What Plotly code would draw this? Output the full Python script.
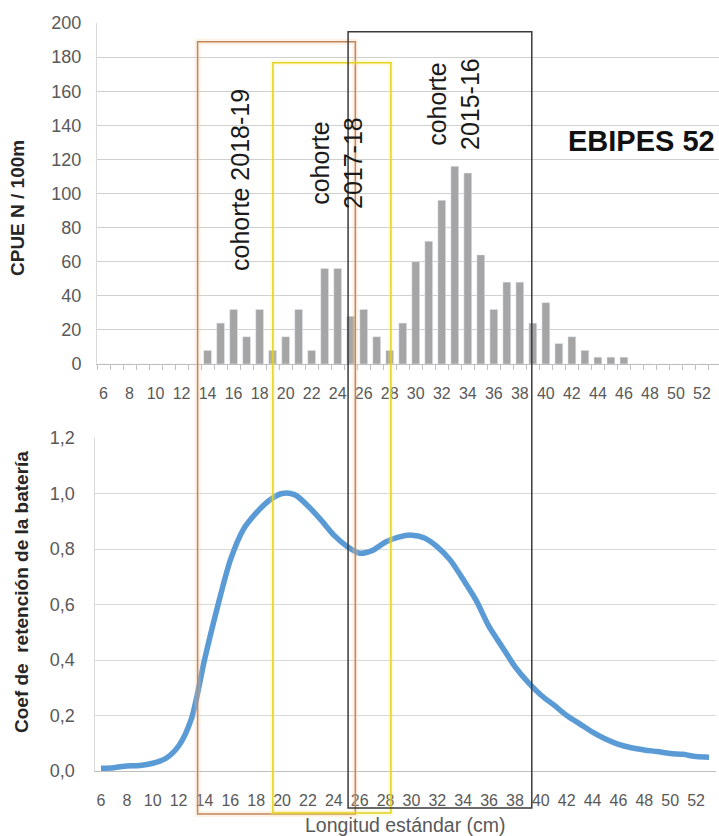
import plotly.graph_objects as go

# ---------------- data ----------------
lengths = [6, 7, 8, 9, 10, 11, 12, 13, 14, 15, 16, 17, 18, 19, 20, 21, 22, 23, 24, 25,
           26, 27, 28, 29, 30, 31, 32, 33, 34, 35, 36, 37, 38, 39, 40, 41, 42, 43, 44,
           45, 46, 47, 48, 49, 50, 51, 52, 53]

cpue = [0, 0, 0, 0, 0, 0, 0, 0, 8, 24, 32, 16, 32, 8, 16, 32, 8, 56, 56, 28,
        32, 16, 8, 24, 60, 72, 96, 116, 112, 64, 32, 48, 48, 24, 36, 12, 16, 8, 4,
        4, 4, 0, 0, 0, 0, 0, 0, 0]

retention = [0.010, 0.012, 0.018, 0.020, 0.028, 0.045, 0.090, 0.190, 0.400, 0.590,
             0.760, 0.870, 0.930, 0.975, 1.000, 0.995, 0.955, 0.905, 0.850, 0.810,
             0.785, 0.795, 0.825, 0.843, 0.850, 0.840, 0.808, 0.760, 0.690, 0.615,
             0.520, 0.448, 0.376, 0.320, 0.274, 0.238, 0.200, 0.170, 0.140, 0.115,
             0.096, 0.084, 0.076, 0.070, 0.063, 0.060, 0.052, 0.050]

x_tick_vals = [6, 8, 10, 12, 14, 16, 18, 20, 22, 24, 26, 28, 30, 32, 34, 36, 38, 40,
               42, 44, 46, 48, 50, 52]
x_tick_text = ["6", "8", "10", "12", "14", "16", "18", "20", "22", "24", "26", "28",
               "30", "32", "34", "36", "38", "40", "42", "44", "46", "48", "50", "52"]

# cohort boxes (length range in cm)
cohorts = [
    ("cohorte 2018-19", 13.47, 25.66),
    ("cohorte 2017-18", 19.29, 28.41),
    ("cohorte 2015-16", 25.10, 39.30),
]

# ---------------- layout helpers ----------------
W, H = 719, 836
def pxx(x):
    return x / W
def pyy(y):
    return 1 - y / H

FONT = "Liberation Sans, Arial, sans-serif"
GREY_TXT = "#595959"

fig = go.Figure()
fig.add_trace(go.Bar(x=lengths, y=cpue, marker_color="#a5a5a5", width=0.6,
                     xaxis="x", yaxis="y", showlegend=False))
fig.add_trace(go.Scatter(x=lengths, y=retention, mode="lines",
                         line=dict(color="#5b9bd5", width=5.5, shape="spline", smoothing=0.8),
                         xaxis="x2", yaxis="y2", showlegend=False))

top_range_right = 5.5 + (719 - 97) / 13.01

fig.update_layout(
    width=W, height=H, autosize=False,
    margin=dict(l=0, r=0, t=0, b=0, autoexpand=False),
    paper_bgcolor="white", plot_bgcolor="white",
    separators=",.",
    font=dict(family=FONT, color=GREY_TXT),
    xaxis=dict(domain=[pxx(97), 1.0], range=[5.5, top_range_right], anchor="y",
               tickmode="array", tickvals=x_tick_vals, ticktext=x_tick_text,
               tickfont=dict(size=16, color=GREY_TXT), ticks="", ticklabelstandoff=15,
               automargin=False,
               showgrid=False, zeroline=False, showline=True, linecolor="#bfbfbf", linewidth=1,
               minor=dict(ticks="outside", ticklen=5, tickcolor="#bfbfbf", tickwidth=1,
                          tickmode="linear", tick0=5.5, dtick=1, showgrid=False)),
    yaxis=dict(domain=[pyy(364), pyy(23)], range=[0, 200], anchor="x",
               tickmode="linear", tick0=0, dtick=20, automargin=False,
               tickfont=dict(size=18, color=GREY_TXT), ticks="", ticklabelstandoff=11,
               showgrid=True, gridcolor="#d0d0d0", gridwidth=1.2, zeroline=False,
               showline=True, linecolor="#d9d9d9", linewidth=1),
    xaxis2=dict(domain=[pxx(94.5), pxx(715.5)], range=[5.5, 53.5], anchor="y2",
                tickmode="array", tickvals=x_tick_vals, ticktext=x_tick_text,
                tickfont=dict(size=16, color=GREY_TXT), ticks="", ticklabelstandoff=15,
                automargin=False,
                showgrid=False, zeroline=False, showline=True, linecolor="#bfbfbf", linewidth=1),
    yaxis2=dict(domain=[pyy(771), pyy(438)], range=[0, 1.2], anchor="x2",
                tickmode="linear", tick0=0, dtick=0.2, tickformat=".1f", automargin=False,
                tickfont=dict(size=18, color=GREY_TXT), ticks="", ticklabelstandoff=15,
                showgrid=True, gridcolor="#d9d9d9", gridwidth=1, zeroline=False,
                showline=True, linecolor="#d9d9d9", linewidth=1),
)

# ---------------- cohort boxes ----------------
box_styles = [
    dict(color="#c0875c", glow="rgba(250,200,150,0.25)", top=41.7, bottom=814),
    dict(color="#e3d21e", glow="rgba(250,235,130,0.22)", top=62.7, bottom=813),
    dict(color="#3a3a3a", glow=None, top=31.7, bottom=808),
]
for (name, x0, x1), st in zip(cohorts, box_styles):
    if st["glow"]:
        fig.add_shape(type="rect", xref="x2", yref="paper", x0=x0, x1=x1,
                      y0=pyy(st["bottom"]), y1=pyy(st["top"]),
                      line=dict(color=st["glow"], width=6), fillcolor="rgba(0,0,0,0)")
    fig.add_shape(type="rect", xref="x2", yref="paper", x0=x0, x1=x1,
                  y0=pyy(st["bottom"]), y1=pyy(st["top"]),
                  line=dict(color=st["color"], width=1.5), fillcolor="rgba(0,0,0,0)")

# ---------------- texts ----------------
ann = []
def add_text(text, x, y, size, bold=False, angle=0, color="#1a1a1a"):
    ann.append(dict(text=("<b>%s</b>" % text) if bold else text,
                    x=pxx(x), y=pyy(y), xref="paper", yref="paper",
                    xanchor="center", yanchor="middle", showarrow=False,
                    textangle=angle, font=dict(family=FONT, size=size, color=color)))

add_text("cohorte 2018-19", 240, 180, 25, angle=-90)
add_text("cohorte<br>2017-18", 336, 163, 25, angle=-90)
add_text("cohorte<br>2015-16", 454, 104, 25, angle=-90)
add_text("EBIPES 52", 641, 141, 29, bold=True, color="#111111")
add_text("CPUE N / 100m", 18, 208, 19, bold=True, angle=-90, color="#262626")
add_text("Coef de\u00a0 retención de la batería", 21, 592, 19, bold=True, angle=-90,
         color="#262626")
add_text("Longitud estándar (cm)", 405, 825, 19.5, color=GREY_TXT)
fig.update_layout(annotations=ann)

fig.write_html("out.html", config={"displayModeBar": False},
               post_script="document.body.style.margin='0px';document.body.style.overflow='hidden';")
